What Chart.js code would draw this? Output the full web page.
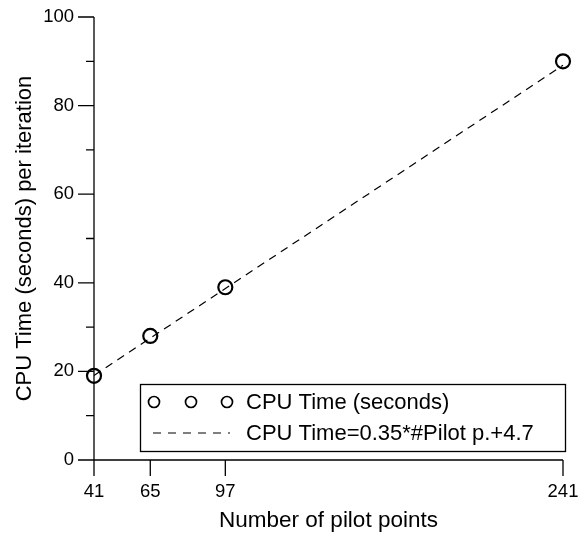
<!DOCTYPE html>
<html>
<head>
<meta charset="utf-8">
<script src="https://cdn.jsdelivr.net/npm/chart.js@4.4.1/dist/chart.umd.min.js"></script>
<style>
  html, body { margin: 0; padding: 0; background: #fff; }
  canvas { display: block; }
</style>
</head>
<body>
<canvas id="chart" width="583" height="534"></canvas>
<script>
// measured points
const pilotPoints = [41, 65, 97, 241];
const cpuTime = [19, 28, 39, 90];

// fitted line, read at its two ends
const fitX = [41, 241];
const fitY = [19.1, 89.1];

const xTicks = [41, 65, 97, 241];
const yMajor = [0, 20, 40, 60, 80, 100];
const yMinor = [10, 30, 50, 70, 90];

const seriesLabels = ["CPU Time (seconds)", "CPU Time=0.35*#Pilot p.+4.7"];

const FONT = "'Liberation Sans', Arial, Helvetica, sans-serif";

// axis lines and tick marks, placed through the chart's scales
const axesPlugin = {
  id: "axes",
  afterDraw(chart) {
    const ctx = chart.ctx;
    const x = chart.scales.x, y = chart.scales.y;
    const left = x.getPixelForValue(xTicks[0]);
    const right = x.getPixelForValue(xTicks[xTicks.length - 1]);
    const bottom = y.getPixelForValue(0);
    const top = y.getPixelForValue(100);
    ctx.save();
    ctx.strokeStyle = "#000";
    ctx.lineWidth = 1.3;
    ctx.beginPath();
    ctx.moveTo(left, top);
    ctx.lineTo(left, bottom);
    ctx.moveTo(left, bottom);
    ctx.lineTo(right, bottom);
    yMajor.forEach(v => {
      const py = y.getPixelForValue(v);
      ctx.moveTo(left - 16, py);
      ctx.lineTo(left, py);
    });
    yMinor.forEach(v => {
      const py = y.getPixelForValue(v);
      ctx.moveTo(left - 8, py);
      ctx.lineTo(left, py);
    });
    xTicks.forEach(v => {
      const px = x.getPixelForValue(v);
      ctx.moveTo(px, bottom);
      ctx.lineTo(px, bottom + 16);
    });
    ctx.stroke();
    ctx.restore();
  }
};

// boxed legend inside the plot
const legendPlugin = {
  id: "boxLegend",
  afterDraw(chart) {
    const ctx = chart.ctx;
    const bx = 140, by = 384, bw = 425, bh = 67;
    ctx.save();
    ctx.strokeStyle = "#000";
    ctx.lineWidth = 1.3;
    ctx.strokeRect(bx + 0.5, by + 0.5, bw, bh);

    // row 1: three circles
    ctx.lineWidth = 1.7;
    [154, 191, 227].forEach(cx => {
      ctx.beginPath();
      ctx.arc(cx, 402, 5.5, 0, Math.PI * 2);
      ctx.stroke();
    });

    // row 2: dashed sample
    ctx.lineWidth = 1.2;
    ctx.setLineDash([8, 7]);
    ctx.beginPath();
    ctx.moveTo(153, 433);
    ctx.lineTo(230, 433);
    ctx.stroke();
    ctx.setLineDash([]);

    ctx.fillStyle = "#000";
    ctx.font = "22px " + FONT;
    ctx.textBaseline = "middle";
    ctx.textAlign = "left";
    ctx.fillText(seriesLabels[0], 246, 403);
    ctx.fillText(seriesLabels[1], 246, 434);
    ctx.restore();
  }
};

new Chart(document.getElementById("chart"), {
  type: "scatter",
  data: {
    datasets: [
      {
        label: seriesLabels[0],
        data: pilotPoints.map((p, i) => ({ x: p, y: cpuTime[i] })),
        pointStyle: "circle",
        pointRadius: 7,
        pointBorderWidth: 2.2,
        pointBorderColor: "#000",
        pointBackgroundColor: "rgba(0,0,0,0)",
        showLine: false,
        clip: false,
        order: 1
      },
      {
        label: seriesLabels[1],
        data: fitX.map((p, i) => ({ x: p, y: fitY[i] })),
        showLine: true,
        borderColor: "#000",
        borderWidth: 1.2,
        borderDash: [8, 6],
        pointRadius: 0,
        clip: false,
        order: 2
      }
    ]
  },
  options: {
    responsive: false,
    animation: false,
    layout: { padding: { top: 17, right: 20, left: 0, bottom: 0 } },
    plugins: {
      legend: { display: false },
      tooltip: { enabled: false }
    },
    scales: {
      x: {
        type: "linear",
        min: 41,
        max: 241,
        afterBuildTicks: axis => { axis.ticks = xTicks.map(v => ({ value: v })); },
        afterFit: s => { s.height = 74; s.paddingLeft = 0; s.paddingRight = 0; },
        grid: { display: false },
        border: { display: false },
        ticks: {
          autoSkip: false,
          maxRotation: 0,
          padding: 13,
          color: "#000",
          font: { family: FONT, size: 18.5 }
        },
        title: {
          display: true,
          text: "Number of pilot points",
          color: "#000",
          font: { family: FONT, size: 22.5 },
          padding: { top: 0, bottom: 0 }
        }
      },
      y: {
        min: 0,
        max: 100,
        afterBuildTicks: axis => { axis.ticks = yMajor.map(v => ({ value: v })); },
        afterFit: s => { s.width = 94; s.paddingTop = 0; s.paddingBottom = 0; },
        grid: { display: false },
        border: { display: false },
        ticks: {
          padding: 12,
          color: "#000",
          font: { family: FONT, size: 18.5 }
        },
        title: {
          display: true,
          text: "CPU Time (seconds) per iteration",
          color: "#000",
          font: { family: FONT, size: 22 },
          padding: { top: 12, bottom: 0 }
        }
      }
    }
  },
  plugins: [axesPlugin, legendPlugin]
});
</script>
</body>
</html>
